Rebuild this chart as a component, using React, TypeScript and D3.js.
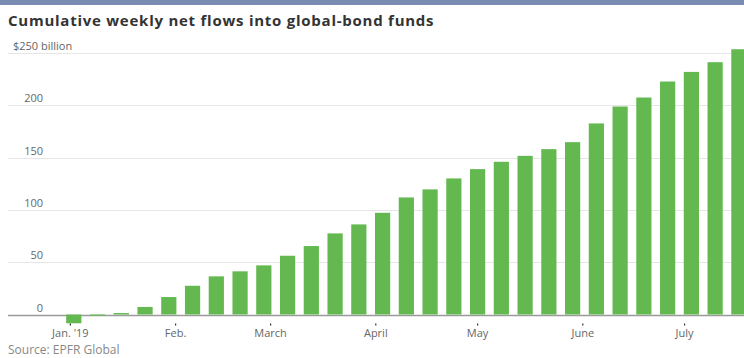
import React from "react";
import * as d3 from "d3";

const startDate = "2019-01-02";
const flows = [-8.4, -1.1, 1.4, 7.2, 16.7, 27.5, 36.5, 41.3, 47, 56.2, 65.5, 77.6, 86.2, 97.3, 112, 119.7, 130.2, 139.1, 146.1, 151.8, 158.2, 164.9, 182.8, 199, 207.6, 222.9, 232.1, 241.4, 253.8];
const yTicks = [0, 50, 100, 150, 200, 250];
const monthTicks = ["2019-01-01", "2019-02-01", "2019-03-01", "2019-04-01", "2019-05-01", "2019-06-01", "2019-07-01"];
const monthLabels = ["Jan. '19", "Feb.", "March", "April", "May", "June", "July"];
const title = "Cumulative weekly net flows into global-bond funds";
const source = "Source: EPFR Global";

const W = 744;
const H = 358;
const FONT = "'Open Sans', 'DejaVu Sans', sans-serif";

export default function App() {
  const parse = d3.timeParse("%Y-%m-%d");
  const d0 = parse(startDate) as Date;
  const dates = flows.map((_, i) => d3.timeDay.offset(d0, 7 * i));
  const data = flows.map((v, i) => ({ date: dates[i], value: v }));

  const x = d3
    .scaleTime()
    .domain([parse("2019-01-01") as Date, parse("2019-04-01") as Date])
    .range([70.4, 375.8]);
  const pxPerDay = (x(parse("2019-04-01") as Date) - x(parse("2019-01-01") as Date)) / 90;
  const barW = pxPerDay * 7 * 0.64;

  const y = d3.scaleLinear().domain([0, 250]).range([314.5, 53.2]);

  return (
    <svg
      width={W}
      height={H}
      style={{ position: "absolute", left: 0, top: 0, background: "#fff" }}
    >
      <rect x={0} y={0} width={W} height={5} fill="#7a8bb1" />
      <text
        x={8}
        y={26}
        fontFamily={FONT}
        fontWeight={700}
        fontSize={15}
        letterSpacing={0.75}
        fill="#333"
      >
        {title}
      </text>
      {yTicks.map((t) => (
        <line
          key={"g" + t}
          x1={8}
          x2={W}
          y1={Math.round(y(t)) + 0.5}
          y2={Math.round(y(t)) + 0.5}
          stroke={t === 0 ? "#9a9a9a" : "#e6e6e6"}
          strokeWidth={t === 0 ? 1.3 : 1}
        />
      ))}
      {yTicks.map((t) =>
        t === 250 ? (
          <text key={"l" + t} x={13} y={y(t) - 3} fontFamily={FONT} fontSize={11} fill="#666">
            $250 billion
          </text>
        ) : (
          <text
            key={"l" + t}
            x={43}
            y={y(t) - 3}
            textAnchor="end"
            fontFamily={FONT}
            fontSize={11}
            fill="#666"
          >
            {t}
          </text>
        )
      )}
      {data.map((d, i) => (
        <rect
          key={"b" + i}
          x={x(d.date) - barW / 2}
          y={y(Math.max(0, d.value))}
          width={barW}
          height={Math.abs(y(d.value) - y(0))}
          fill="#63b950"
        />
      ))}
      {monthTicks.map((m, i) => {
        const xx = x(parse(m) as Date);
        return (
          <g key={"m" + m}>
            <line x1={xx} x2={xx} y1={323.5} y2={325.5} stroke="#333" strokeWidth={1.2} />
            <text
              x={xx}
              y={337}
              textAnchor="middle"
              fontFamily={FONT}
              fontSize={11}
              fill="#666"
            >
              {monthLabels[i]}
            </text>
          </g>
        );
      })}
      <text x={8} y={354} fontFamily={FONT} fontSize={12} fill="#888">
        {source}
      </text>
    </svg>
  );
}
